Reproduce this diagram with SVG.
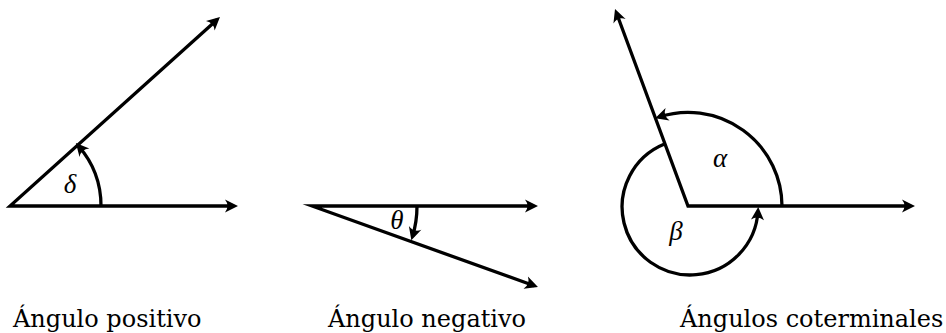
<svg xmlns="http://www.w3.org/2000/svg" width="946" height="333" viewBox="0 0 946 333">
<style>
.ray{fill:none;stroke:#000;stroke-width:3.3;stroke-linejoin:miter;stroke-miterlimit:20}
.arc{fill:none;stroke:#000;stroke-width:3.3}
.greek{font-family:"Liberation Serif","DejaVu Serif",serif;font-style:italic;font-size:27px;fill:#000;text-anchor:middle}
.cap{font-family:"DejaVu Serif","Liberation Serif",serif;font-size:24px;fill:#000}
</style>
<defs>
<marker id="ah" markerUnits="userSpaceOnUse" markerWidth="24" markerHeight="24" viewBox="-12 -12 24 24" refX="0" refY="0" orient="auto-start-reverse">
<path d="M4,0 L-9,-6.5 Q-4,0 -9,6.5 Z" fill="#000"/>
</marker>
</defs>
<g id="connectors">
<path class="ray" d="M217,19.7 L10,206 L234,206" marker-start="url(#ah)" marker-end="url(#ah)"/>
<path class="arc" d="M101,206 A91,91 0 0 0 78.5,146" marker-end="url(#ah)"/>
<path class="ray" d="M534,206 L312,206 L534.2,285.7" marker-start="url(#ah)" marker-end="url(#ah)"/>
<path class="arc" d="M417,206 A105,105 0 0 1 412.5,236.5" marker-end="url(#ah)"/>
<path class="ray" d="M616.4,12.8 L688,206 L911,206" marker-start="url(#ah)" marker-end="url(#ah)"/>
<path class="arc" d="M782,206 A94,94 0 0 0 659,117" marker-end="url(#ah)"/>
<path class="arc" d="M664.5,144 A68,68 0 1 0 758,211" marker-end="url(#ah)"/>
</g>
<g id="positivo">
<text class="greek" x="70" y="193">δ</text>
<text class="cap" x="13" y="327">Ángulo positivo</text>
</g>
<g id="negativo">
<text class="greek" x="397" y="229">θ</text>
<text class="cap" x="328" y="327">Ángulo negativo</text>
</g>
<g id="coterminales">
<text class="greek" x="720" y="167">α</text>
<text class="greek" x="676" y="240">β</text>
<text class="cap" x="680" y="327">Ángulos coterminales</text>
</g>
</svg>
